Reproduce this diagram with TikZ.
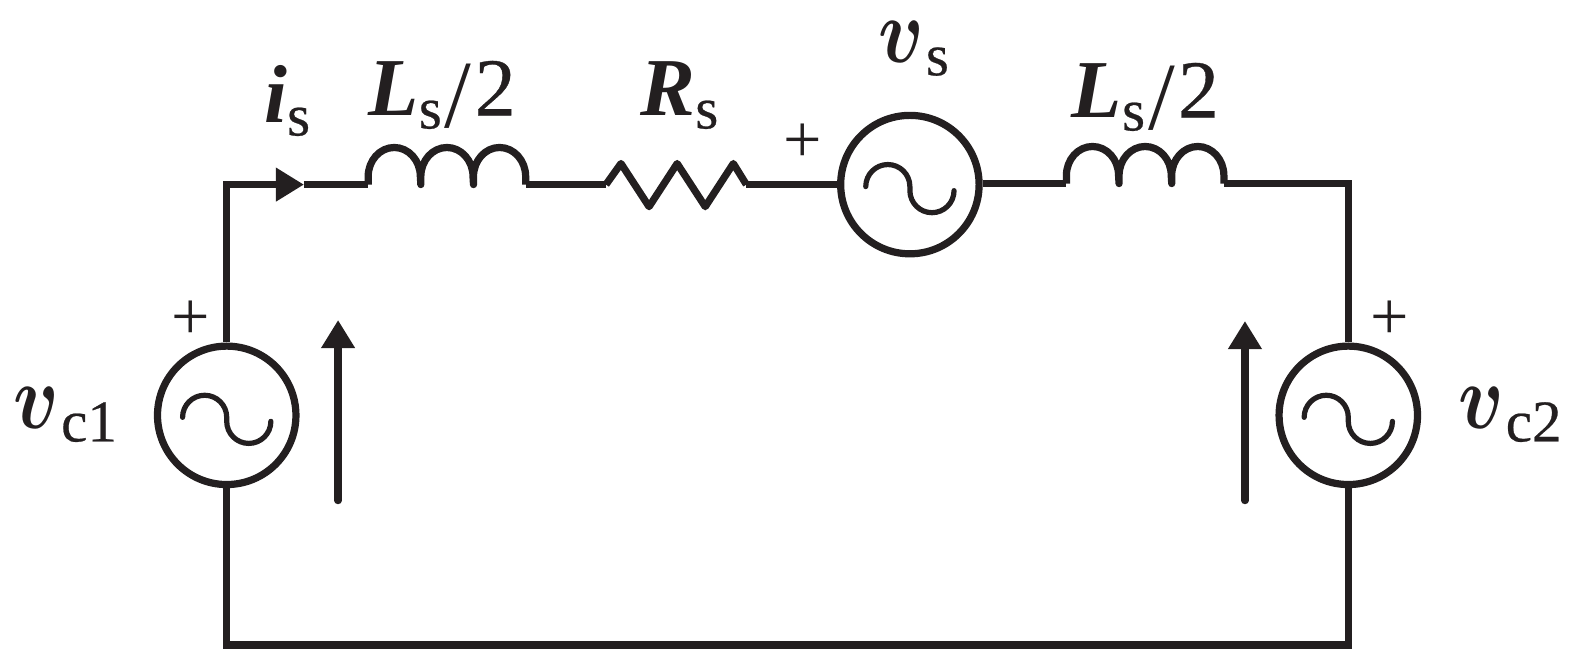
\RequirePackage{fix-cm}
\documentclass[tikz,border=0pt]{standalone}
\usepackage{fontspec}
\usepackage{graphicx}
\setmainfont{Liberation Serif}
\newfontfamily\labup{Liberation Serif}[FakeBold=0.4]
\usetikzlibrary{arrows.meta, positioning}

\definecolor{inkdark}{HTML}{231F20}
\newcommand{\labital}[1]{{\fontsize{41}{41}\selectfont\bfseries\itshape #1}}
\newcommand{\labsub}[1]{\raisebox{-6.5pt}{\labup\fontsize{29.5}{30}\selectfont #1}}
\newcommand{\labslash}{\hspace{1.5pt}\raisebox{-6pt}{\fontsize{48}{48}\selectfont /}\hspace{1.5pt}}
\newcommand{\labtwo}{{\labup\fontsize{41}{41}\selectfont 2}}
\newcommand{\labvolt}{\scalebox{0.82}[1]{\fontsize{46}{46}\selectfont\boldmath$v$}\hspace{1pt}}

\tikzset{
    wire/.style={draw=inkdark, line width=3.6pt, line join=miter},
    sensetip/.style={-{Triangle[length=14pt, width=16pt]}},
    source/.style={circle, draw=inkdark, line width=3.6pt, minimum size=69pt, inner sep=0pt,
        path picture={
            \draw[inkdark, line width=2.6pt, line cap=round]
                ([xshift=-22pt, yshift=-1pt]path picture bounding box.center)
                arc[start angle=180, end angle=0, radius=11pt] -- ++(0,-2pt)
                arc[start angle=180, end angle=360, radius=11pt];
        }},
    lab/.style={anchor=base west, inner sep=0pt, text=inkdark},
    polarity/.style={inner sep=0pt, text=inkdark, font=\fontsize{34}{34}\selectfont},
    coil/.pic={
        \draw[wire, line join=round] (0,0) -- (0,-8)
            arc[x radius=13pt, y radius=14.5pt, start angle=180, end angle=0] -- (52.5,0) -- (52.5,-8)
            arc[x radius=13pt, y radius=14.5pt, start angle=180, end angle=0] -- (105,0) -- (105,-8)
            arc[x radius=13pt, y radius=14.5pt, start angle=180, end angle=0] -- (157,0);
        \coordinate (-in) at (0,0);
        \coordinate (-out) at (157,0);
    },
    zigzag/.pic={
        \draw[wire, line join=round] (0,0) -- (15,-21) -- (43,22) -- (71,-21) -- (99,22)
            -- (127,-21) -- (140,0);
        \coordinate (-in) at (0,0);
        \coordinate (-out) at (140,0);
    },
}

\begin{document}
\begin{tikzpicture}[x=0.5pt, y=-0.5pt]
    \useasboundingbox (0,0) rectangle (1568,665);

    % sources
    \node[source] (vsrc) at (907,184) {};
    \node[source] (vc1)  at (226,414) {};
    \node[source] (vc2)  at (1344,414) {};

    % series elements
    \pic (coilA) at (367,184) {coil};
    \pic (res)   at (604,184) {zigzag};
    \pic (coilB) at (1063,183) {coil};

    \coordinate (topleft)  at (226,184);
    \coordinate (isarrow)  at (303,184);
    \coordinate (topright) at (1344,183);
    \coordinate (botleft)  at (226,643);
    \coordinate (botright) at (1344,643);

    % loop
    \draw[wire, sensetip] (vc1.north) -- (topleft) -- (isarrow);
    \draw[wire] (isarrow) -- (coilA-in);
    \draw[wire] (coilA-out) -- (res-in);
    \draw[wire] (res-out) -- (vsrc.west);
    \draw[wire] (vsrc.east |- coilB-in) -- (coilB-in);
    \draw[wire] (coilB-out) -- (topright) -- (vc2.north);
    \draw[wire] (vc2.south) -- (botright) -- (botleft) -- (vc1.south);

    % voltage arrows
    \coordinate (senseAbot) at (337,499);
    \coordinate (senseAtop) at (337,319);
    \coordinate (senseBbot) at (1241,499);
    \coordinate (senseBtop) at (1241,320);
    \draw[wire, sensetip, line cap=round] (senseAbot) -- (senseAtop);
    \draw[wire, sensetip, line cap=round] (senseBbot) -- (senseBtop);

    % labels
    \node[lab] (lis)  at (263,122) {\labital{i}\labsub{s}};
    \node[lab] (lla)  at (367,115) {\labital{L}\labsub{s}\labslash\labtwo};
    \node[lab] (lrs)  at (638,115) {\labital{R}\labsub{s}};
    \node[lab] (lvs)  at (875,62)  {\labvolt\labsub{s}};
    \node[lab] (llb)  at (1068,117) {\labital{L}\labsub{s}\labslash\labtwo};
    \node[lab] (lvc1) at (13,427)  {\labvolt\labsub{c1}};
    \node[lab] (lvc2) at (1453,427) {\labvolt\labsub{c2}};

    \node[polarity] (plusA) at (190,319) {+};
    \node[polarity] (plusB) at (800,143) {+};
    \node[polarity] (plusC) at (1385,319) {+};
\end{tikzpicture}
\end{document}
